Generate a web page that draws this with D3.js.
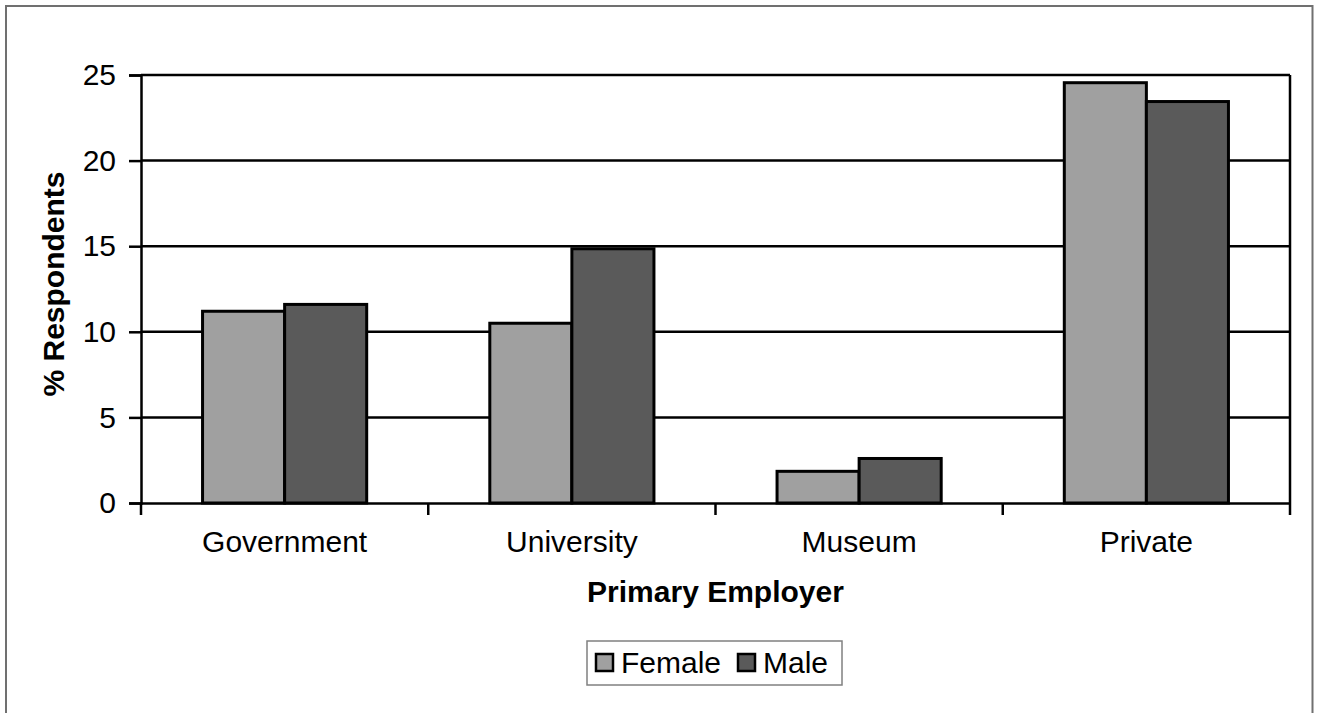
<!DOCTYPE html>
<html><head><meta charset="utf-8">
<script src="https://cdn.jsdelivr.net/npm/d3@7"></script>
<style>
html,body{margin:0;padding:0;background:#fff;}
svg{display:block;font-family:Arial,"Liberation Sans",sans-serif;}
</style></head>
<body>
<svg id="chart" width="1319" height="713"></svg>
<script>
const categories = ["Government", "University", "Museum", "Private"];
const seriesNames = ["Female", "Male"];
const female = [11.2, 10.5, 1.85, 24.55];
const male = [11.6, 14.85, 2.6, 23.45];
const yTicks = [0, 5, 10, 15, 20, 25];
const colors = ["#a0a0a0", "#5a5a5a"];

const svg = d3.select("#chart");
const W = 1319, H = 713;
const m = {left:141, right:1290, top:75, bottom:503};
const FS = 30;

// outer border (bottom cut off)
svg.append("path").attr("d", `M6,${H+2} V6 H1312.5 V${H+2}`)
  .attr("fill","none").attr("stroke","#707070").attr("stroke-width",2);

const x = d3.scaleBand().domain(categories).range([m.left, m.right]).paddingInner(0).paddingOuter(0);
const y = d3.scaleLinear().domain([0,25]).range([m.bottom, m.top]);
const inner = d3.scaleBand().domain(seriesNames).range([0, x.bandwidth()]).paddingInner(0).paddingOuter(0.75);

// gridlines
svg.append("g").selectAll("line").data(yTicks.filter(d=>d>0)).join("line")
  .attr("x1", m.left).attr("x2", m.right)
  .attr("y1", d=>y(d)).attr("y2", d=>y(d))
  .attr("stroke","#000").attr("stroke-width",2.5);

// right border of plot
svg.append("line").attr("x1", m.right).attr("x2", m.right).attr("y1", m.top).attr("y2", m.bottom)
  .attr("stroke","#000").attr("stroke-width",2.5);

// bars
const data = categories.map((c,i)=>({cat:c, vals:[female[i], male[i]]}));
const groups = svg.append("g").selectAll("g").data(data).join("g")
  .attr("transform", d=>`translate(${x(d.cat)},0)`);
groups.selectAll("rect").data(d=>d.vals.map((v,j)=>({v, s:seriesNames[j], j}))).join("rect")
  .attr("x", d=>inner(d.s))
  .attr("width", inner.bandwidth())
  .attr("y", d=>y(d.v))
  .attr("height", d=>y(0)-y(d.v))
  .attr("fill", d=>colors[d.j])
  .attr("stroke","#000").attr("stroke-width",3);

// y axis
const yAxis = d3.axisLeft(y).tickValues(yTicks).tickSize(12).tickPadding(13).tickFormat(d3.format("d"));
const gy = svg.append("g").attr("transform",`translate(${m.left},0)`).call(yAxis);
gy.select(".domain").attr("stroke","#000").attr("stroke-width",2.5);
gy.selectAll(".tick line").attr("stroke","#000").attr("stroke-width",2.5);
gy.selectAll(".tick text").attr("font-size",FS).attr("fill","#000").attr("font-family","Arial, 'Liberation Sans', sans-serif");

// x axis
const xAxis = d3.axisBottom(x).tickSize(0).tickPadding(28);
const gx = svg.append("g").attr("transform",`translate(0,${m.bottom})`).call(xAxis);
gx.select(".domain").attr("stroke","#000").attr("stroke-width",2.5);
gx.selectAll(".tick text").attr("font-size",FS).attr("fill","#000").attr("font-family","Arial, 'Liberation Sans', sans-serif");
// category separator ticks
const sepVals = d3.range(categories.length+1);
svg.append("g").selectAll("line").data(sepVals).join("line")
  .attr("x1", i=> i<categories.length ? x(categories[i]) : x(categories[categories.length-1])+x.bandwidth())
  .attr("x2", i=> i<categories.length ? x(categories[i]) : x(categories[categories.length-1])+x.bandwidth())
  .attr("y1", m.bottom).attr("y2", m.bottom+12)
  .attr("stroke","#000").attr("stroke-width",2.5);

// axis titles
svg.append("text").attr("x", (m.left+m.right)/2).attr("y", 602)
  .attr("text-anchor","middle").attr("font-weight","bold").attr("font-size",FS)
  .text("Primary Employer");
svg.append("text").attr("transform", `translate(64,${(m.top+m.bottom)/2 - 5}) rotate(-90)`)
  .attr("text-anchor","middle").attr("font-weight","bold").attr("font-size",FS)
  .text("% Respondents");

// legend
const lg = svg.append("g");
lg.append("rect").attr("x",587).attr("y",641).attr("width",255).attr("height",44)
  .attr("fill","#fff").attr("stroke","#808080").attr("stroke-width",1.5);
const legX = [595, 737];
seriesNames.forEach((s,i)=>{
  lg.append("rect").attr("x",legX[i]+1).attr("y",654).attr("width",17).attr("height",17)
    .attr("fill",colors[i]).attr("stroke","#000").attr("stroke-width",2.5);
  lg.append("text").attr("x",legX[i]+26).attr("y",673).attr("font-size",FS).text(s);
});
</script>
</body></html>
